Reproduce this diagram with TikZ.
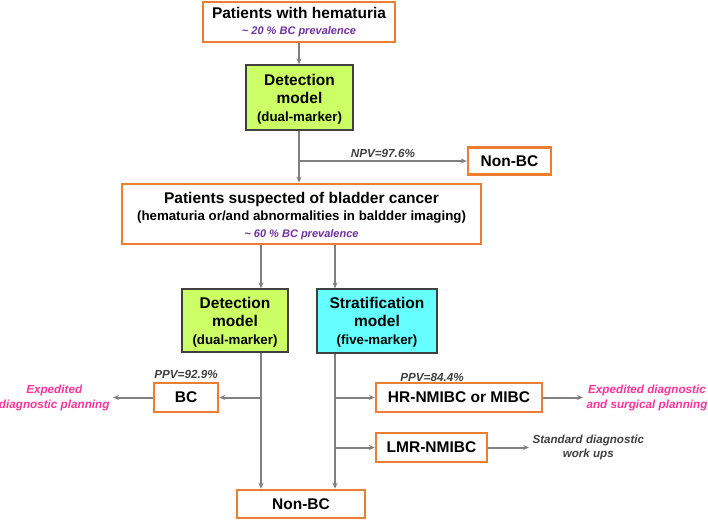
\documentclass[tikz,border=0pt]{standalone}
\usepackage{fontspec}
\setmainfont{Liberation Sans}
\usetikzlibrary{arrows.meta}
\usetikzlibrary{positioning}
\definecolor{morange}{RGB}{237, 125, 49}
\definecolor{mgreen}{RGB}{204, 255, 102}
\definecolor{mcyan}{RGB}{102, 255, 255}
\definecolor{mpurple}{RGB}{112, 48, 160}
\definecolor{mpink}{RGB}{255, 51, 153}
\definecolor{mgray}{RGB}{128, 128, 128}
\definecolor{mdark}{RGB}{64, 64, 64}
\newcommand{\bigf}{\fontsize{15.5}{18}\selectfont}
\newcommand{\midf}{\fontsize{13.3}{16}\selectfont}
\newcommand{\smf}{\fontsize{11}{13}\selectfont}
\tikzset{obox/.style = {draw=morange, line width=2.5pt, fill=white,
                        align=center, inner sep=0pt, font=\bfseries\bigf},
         mbox/.style = {draw=mdark, line width=1.2pt, align=center,
                        inner sep=0pt, font=\bfseries\bigf},
         arr/.style = {draw=mgray, line width=2pt,
                       -{Stealth[length=6pt, width=5pt]}},
         val/.style = {text=mdark, font=\bfseries\itshape\fontsize{11.7}{14}\selectfont},
         outc/.style = {align=center, font=\bfseries\itshape\fontsize{11.7}{15}\selectfont}}

\begin{document}
\begin{tikzpicture}[x=1pt, y=-1pt]
      \useasboundingbox (0, 0) rectangle (708, 520);

      \node [obox, minimum width=192pt, minimum height=40pt] (hem) at (299, 22)
            {Patients with hematuria\\[-2pt]
             {\color{mpurple}\smf\itshape \textasciitilde{} 20 \% BC prevalence}};
      \node [mbox, fill=mgreen, minimum width=107pt, minimum height=65pt] (det1) at (299.5, 97.5)
            {\raisebox{0pt}[14pt][0pt]{}Detection\\model\\{\midf (dual-marker)}};
      \node [obox, minimum width=83pt, minimum height=27pt] (nbc1) at (509.5, 161) {Non-BC};
      \node [obox, minimum width=359pt, minimum height=60pt] (susp) at (301.5, 214)
            {\raisebox{0pt}[16pt][0pt]{}Patients suspected of bladder cancer\\[-1pt]
             {\midf (hematuria or/and abnormalities in baldder imaging)}\\[-1pt]
             {\color{mpurple}\smf\itshape \textasciitilde{} 60 \% BC prevalence}};
      \node [mbox, fill=mgreen, minimum width=106pt, minimum height=63pt] (det2) at (235, 320.5)
            {\raisebox{0pt}[14pt][0pt]{}Detection\\model\\{\midf (dual-marker)}};
      \node [mbox, fill=mcyan, minimum width=120pt, minimum height=64pt] (strat) at (377, 321)
            {\raisebox{0pt}[14pt][0pt]{}Stratification\\model\\{\midf (five-marker)}};
      \node [obox, minimum width=64pt, minimum height=29pt] (bc) at (186, 397.5) {BC};
      \node [obox, minimum width=166pt, minimum height=29pt] (hr) at (459, 397.5) {HR-NMIBC or MIBC};
      \node [obox, minimum width=111pt, minimum height=29pt] (lmr) at (431.5, 447.5) {LMR-NMIBC};
      \node [obox, minimum width=128pt, minimum height=28pt] (nbc2) at (301, 504) {Non-BC};

      \coordinate (xl) at (261, 0);
      \coordinate (xr) at (335, 0);
      \coordinate (xm) at (299, 0);
      \coordinate (e1) at (113, 397.5);
      \coordinate (e2) at (583, 397.5);
      \coordinate (e3) at (529, 447.5);

      \draw [arr] (hem.south -| xm) -- (det1.north -| xm);
      \draw [arr] (det1.south -| xm) -- (susp.north -| xm);
      \draw [arr] (nbc1.west -| xm) -- (nbc1.west)
            node [val, pos=0.5, above=-1pt] {NPV=97.6\%};

      \draw [arr] (susp.south -| xl) -- (det2.north -| xl);
      \draw [arr] (susp.south -| xr) -- (strat.north -| xr);
      \draw [arr] (det2.south -| xl) -- (nbc2.north -| xl);
      \draw [arr] (strat.south -| xr) -- (nbc2.north -| xr);

      \draw [arr] (bc.east -| xl) -- (bc.east);
      \draw [arr] (bc.west) -- (e1);
      \draw [arr] (hr.west -| xr) -- (hr.west);
      \draw [arr] (hr.east) -- (e2);
      \draw [arr] (lmr.west -| xr) -- (lmr.west);
      \draw [arr] (lmr.east) -- (e3);

      \node [val, above=0pt of bc] (ppv1) {PPV=92.9\%};
      \node [val] (ppv2) at (432, 377) {PPV=84.4\%};

      \node [outc, text=mpink, anchor=east] (exp1) at (e1) {Expedited\\diagnostic planning};
      \node [outc, text=mpink, anchor=west] (exp2) at (e2) {Expedited diagnostic\\and surgical planning};
      \node [outc, text=mdark, anchor=west, font=\bfseries\itshape\fontsize{11.6}{14}\selectfont]
            (std) at (e3) {Standard diagnostic\\work ups};
    \end{tikzpicture}
\end{document}
